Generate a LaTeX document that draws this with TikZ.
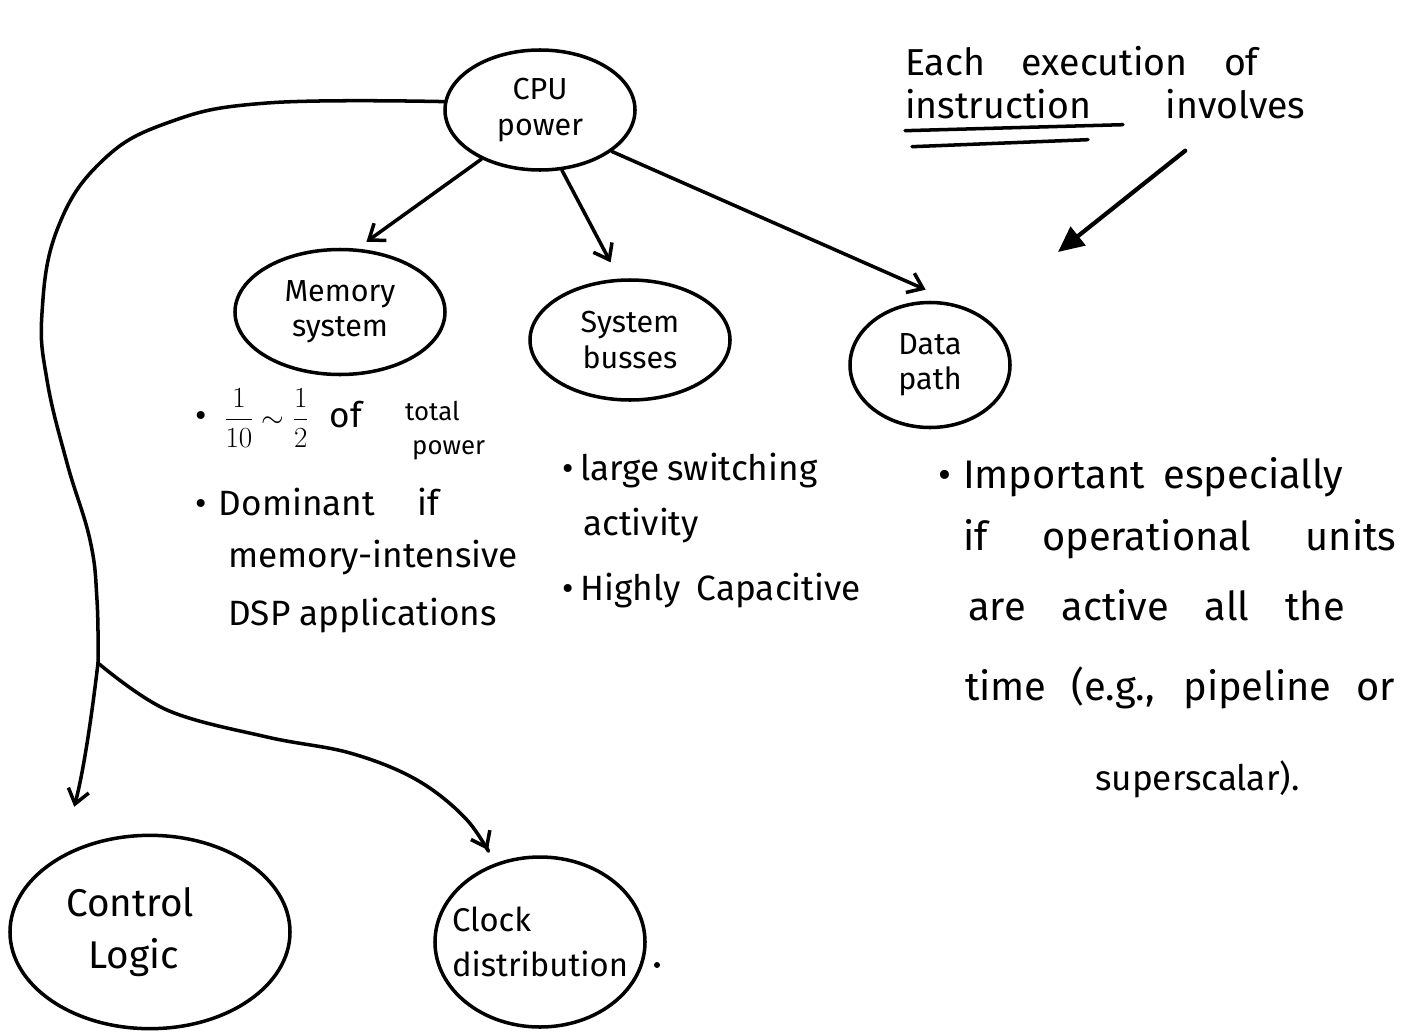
\documentclass[tikz,border=0pt]{standalone}
\usepackage{fontspec}
\setmainfont{Fira Sans}
\usetikzlibrary{arrows.meta,shapes.geometric}
% stretch a line of text to a given width (spaces absorb the slack)
\newcommand{\spread}[2]{\makebox[#1][s]{#2}}
\begin{document}
\begin{tikzpicture}[x=0.03cm,y=-0.03cm,
  ink/.style={line width=3pt, line cap=round, line join=round},
  blob/.style={ink, draw, ellipse, inner sep=-0.3cm, align=center,
    font=\fontsize{26}{30}\selectfont},
  arr/.style={ink, -{Straight Barb[length=12pt,width=18pt,line width=3pt]}},
  note/.style={anchor=base west, inner sep=0pt, font=\fontsize{30}{34}\selectfont},
  big note/.style={note, font=\fontsize{34}{38}\selectfont},
  small note/.style={note, font=\fontsize{22}{24}\selectfont},
]
\useasboundingbox (0,0) rectangle (1422,1032);

% ---- component blobs ----
\node[blob, minimum width=5.7cm, minimum height=3.6cm] (cpu) at (540,110) {CPU\\power};
\node[blob, minimum width=6.3cm, minimum height=3.75cm] (mem) at (340,312) {Memory\\system};
\node[blob, minimum width=6.0cm, minimum height=3.6cm] (bus) at (630,340) {System\\busses};
\node[blob, minimum width=4.8cm, minimum height=3.75cm] (dp) at (930,365) {Data\\path};
\node[blob, minimum width=8.4cm, minimum height=5.8cm,
      font=\fontsize{33}{44}\selectfont] (ctl) at (150,932) {Control\hspace*{1.2cm}\\Logic\hspace*{1.0cm}};
\node[blob, minimum width=6.3cm, minimum height=5.1cm, inner sep=-0.6cm, align=left,
      font=\fontsize{28}{38}\selectfont] (clk) at (540,942) {Clock\\distribution};

% ---- arrows from CPU power ----
\draw[arr, shorten >=0.35cm] (cpu.220) -- (mem.75);
\draw[arr, shorten >=0.55cm] (cpu.290) -- (bus.100);
\draw[arr, shorten >=1.25cm] (cpu.330) -- (dp.60);

% long branch on the left
\coordinate (junc) at (98,663);
\draw[ink] plot[smooth, tension=0.7] coordinates
  {(cpu.175) (267,103) (167,123) (100,163) (57,230) (42,313) (47,380) (67,463) (90,540) (97,600) (junc)};
\draw[arr, shorten >=1.5cm] (junc) to[bend left=4] (ctl.139);
\draw[arr, shorten >=0.45cm] plot[smooth, tension=0.6] coordinates
  {(junc) (167,710) (267,737) (350,753) (417,780) (467,820) (clk.120)};
\fill (657,965) circle (3);

% ---- annotation, top right ----
\node[note, font=\fontsize{32}{36}\selectfont] (t1) at (905,75) {\spread{10.6cm}{Each execution of}};
\node[note, font=\fontsize{32}{36}\selectfont] (t2) at (905,118) {\spread{12cm}{instruction involves}};
\draw[ink] (t2.south west) ++(0,12) coordinate (u1) -- ++(218,-6);
\draw[ink] (u1) ++(7,16) -- ++(176,-7);
\coordinate (annTip) at (1058,252);
\draw[ink, line width=3.6pt, -{Triangle[length=22pt,width=20pt]}] (t2.south) ++(80,32) -- (annTip);

% ---- memory system notes ----
\node[note] (m1) at (195,427) {\textbullet\hspace{0.5em}$\displaystyle\frac{1}{10}\;{\sim}\;\frac{1}{2}$\hspace{0.6em}of};
\node[small note] (m1t) at (405,420) {total};
\node[small note] (m1p) at (412,454) {power};
\node[note] (m2) at (195,515) {\textbullet\hspace{0.35em}\spread{6.6cm}{Dominant if}};
\node[note] (m3) at (228,567) {memory-intensive};
\node[note] (m4) at (228,625) {DSP applications};

% ---- system busses notes ----
\node[note] (b1) at (562,480) {\textbullet\hspace{0.2em}\spread{7.1cm}{large switching}};
\node[note] (b2) at (583,535) {activity};
\node[note] (b3) at (562,600) {\textbullet\hspace{0.2em}\spread{8.4cm}{Highly Capacitive}};

% ---- data path notes ----
\node[big note] (d1) at (938,488) {\textbullet\hspace{0.3em}\spread{11.4cm}{Important especially}};
\node[big note] (d2) at (963,550) {\spread{13cm}{if operational units}};
\node[big note] (d3) at (968,620) {\spread{11.3cm}{are active all the}};
\node[big note] (d4) at (965,700) {\spread{12.9cm}{time (e.g., pipeline or}};
\node[note] (d5) at (1095,790) {superscalar).};
\end{tikzpicture}
\end{document}
